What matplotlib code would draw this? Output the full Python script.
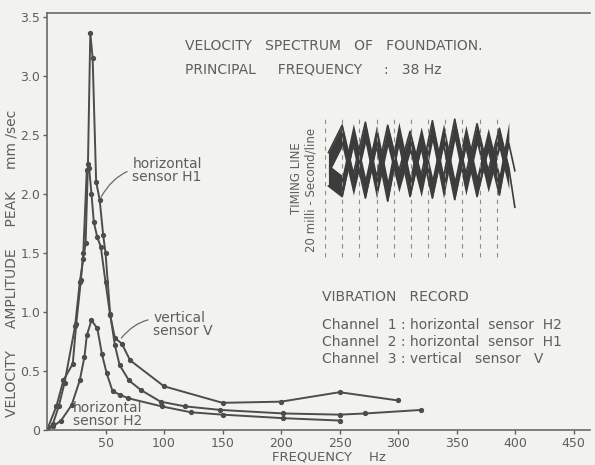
import matplotlib
matplotlib.use("Agg")
import matplotlib.pyplot as plt

# velocity spectrum (Hz, mm/sec)
freq_h1 = [0, 5, 10, 15, 24, 28, 31, 33, 35, 37, 39, 42, 45, 48, 50, 54, 58, 62, 70, 80, 97, 118, 148, 202, 250, 272, 320]
vel_h1 = [0, 0.05, 0.2, 0.4, 0.88, 1.25, 1.45, 1.58, 2.25, 3.36, 3.15, 2.1, 1.95, 1.65, 1.5, 0.98, 0.72, 0.55, 0.42, 0.34, 0.24, 0.2, 0.17, 0.14, 0.13, 0.14, 0.17]

freq_v = [0, 8, 14, 22, 25, 29, 31, 34, 36, 38, 40, 43, 46, 50, 54, 58, 64, 71, 100, 150, 200, 250, 300]
vel_v = [0, 0.2, 0.42, 0.56, 0.9, 1.27, 1.5, 2.2, 2.22, 2.0, 1.76, 1.63, 1.55, 1.25, 0.97, 0.78, 0.73, 0.59, 0.37, 0.23, 0.24, 0.32, 0.25]

freq_h2 = [0, 5, 12, 21, 28, 32, 34, 38, 43, 47, 51, 56, 62, 69, 98, 123, 150, 202, 250]
vel_h2 = [0, 0.03, 0.08, 0.21, 0.42, 0.62, 0.8, 0.93, 0.86, 0.64, 0.48, 0.33, 0.3, 0.27, 0.2, 0.15, 0.13, 0.1, 0.08]

xticks = [50, 100, 150, 200, 250, 300, 350, 400, 450]
yticks = [0, 0.5, 1.0, 1.5, 2.0, 2.5, 3.0, 3.5]
ylabels = ["0", "0.5", "1.0", "1.5", "2.0", "2.5", "3.0", "3.5"]

# vibration record: turning points of the two traces (ms, arbitrary amplitude)
rec_t = [4, 20, 33, 47, 60, 73, 86, 99, 112, 125, 138, 151, 164, 177, 190, 203, 214, 221]
rec_a = [7.2, 9.0, 5.8, 9.2, 5.6, 9.0, 6.0, 8.6, 5.7, 9.3, 5.6, 9.4, 5.8, 9.1, 6.0, 8.8, 6.2, 3.6]
rec_b = [5.0, 4.3, 7.7, 4.2, 7.6, 4.0, 7.8, 4.3, 7.5, 4.2, 7.7, 4.1, 7.6, 4.3, 7.4, 4.4, 7.8, 6.0]
timing_lines = [0, 20, 40, 60, 80, 100, 120, 140, 160, 180, 200]

bg = "#f2f2ee"
ink = "#4d4d4d"
txt = "#5e5e5e"

fig = plt.figure(figsize=(5.95, 4.65), dpi=100, facecolor=bg)
ax = fig.add_axes([47/595, 35/465, 543/595, 417/465])
ax.set_facecolor(bg)

for f, v in [(freq_h1, vel_h1), (freq_v, vel_v), (freq_h2, vel_h2)]:
    ax.plot(f, v, color=ink, lw=1.4, marker="o", ms=2.8, mfc=ink, mec=ink)

ax.set_xlim(0, 464)
ax.set_ylim(0, 3.53)
ax.set_xticks(xticks)
ax.set_yticks(yticks)
ax.set_yticklabels(ylabels)
ax.tick_params(colors=txt, labelsize=9, length=3, width=1, pad=2)
ax.spines["right"].set_visible(False)
for s in ["left", "bottom", "top"]:
    ax.spines[s].set_color("#6a6a6a")
    ax.spines[s].set_linewidth(1.2)

ax.set_xlabel("FREQUENCY    Hz", color=txt, fontsize=9.5)
ax.xaxis.set_label_coords(0.52, -0.048)
ax.set_ylabel("VELOCITY     AMPLITUDE     PEAK     mm /sec", color=txt, fontsize=10)
ax.yaxis.set_label_coords(-0.053, 0.40)

# curve labels with leaders
lab = dict(fontsize=10, color=txt, va="center", linespacing=0.9)
arr = dict(arrowstyle="-", color="#6a6a6a", lw=0.9, connectionstyle="arc3,rad=0.4")
ax.annotate("horizontal\nsensor H1", xy=(45, 1.95), xytext=(73, 2.2), arrowprops=arr, **lab)
ax.annotate("vertical\nsensor V", xy=(62, 0.76), xytext=(91, 0.89), arrowprops=arr, **lab)
ax.annotate("horizontal\nsensor H2", xy=(62, 0.31), xytext=(22, 0.13),
            arrowprops=dict(arrowstyle="-", color="#8a8a8a", lw=0.9), **lab)

def px(x, y):
    return x / 595, 1 - y / 465

big = dict(fontsize=10, color=txt, va="center")
fig.text(*px(185, 46), "VELOCITY   SPECTRUM   OF   FOUNDATION.", **big)
fig.text(*px(185, 69), "PRINCIPAL     FREQUENCY     :   38 Hz", **big)
fig.text(*px(322, 297), "VIBRATION   RECORD", **big)
fig.text(*px(322, 325), "Channel  1 : horizontal  sensor  H2", **big)
fig.text(*px(322, 342), "Channel  2 : horizontal  sensor  H1", **big)
fig.text(*px(322, 359), "Channel  3 : vertical   sensor   V", **big)
fig.text(*px(297, 178), "TIMING LINE", fontsize=8.5, color=txt, rotation=90, ha="center", va="center")
fig.text(*px(311, 190), "20 milli - Second/line", fontsize=8.5, color=txt, rotation=90, ha="center", va="center")

# inset vibration record
ins = fig.add_axes([325/595, 1 - 262/465, 195/595, 152/465])
ins.set_xlim(0, 227)
ins.set_ylim(0, 10)
ins.axis("off")
for t in timing_lines:
    ins.axvline(t, color="#8c8c8c", lw=0.8, ls=(0, (4, 4)), ymin=0.03, ymax=0.97)
thick = 1.4
ins.fill_between(rec_t[:-1], rec_a[:-1], [a - thick for a in rec_a[:-1]], color="#3c3c3c", lw=0)
ins.fill_between(rec_t[:-1], rec_b[:-1], [b + thick for b in rec_b[:-1]], color="#3c3c3c", lw=0)
ins.plot(rec_t, rec_a, color="#3c3c3c", lw=1.2)
ins.plot(rec_t, rec_b, color="#3c3c3c", lw=1.2)

fig.savefig("out.png", dpi=100, facecolor=bg)
